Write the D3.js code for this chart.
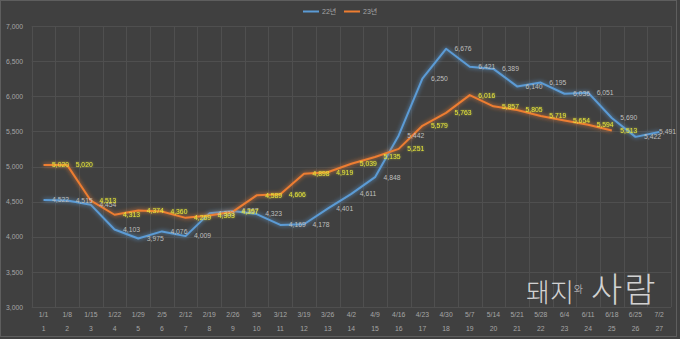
<!DOCTYPE html>
<html><head><meta charset="utf-8">
<script src="https://cdn.jsdelivr.net/npm/d3@7"></script>
<style>
html,body{margin:0;padding:0;background:#404040;}
svg{display:block;}
text{font-family:"Liberation Sans","Noto Sans CJK KR",sans-serif;}
</style></head>
<body>
<svg id="c" width="680" height="339"></svg>
<script>
const dates = ["1/1","1/8","1/15","1/22","1/29","2/5","2/12","2/19","2/26","3/5","3/12","3/19","3/26","4/2","4/9","4/16","4/23","4/30","5/7","5/14","5/21","5/28","6/4","6/11","6/18","6/25","7/2"];
const weeks = d3.range(1, 28);
const series22 = [4522,4515,4454,4103,3975,4076,4009,4333,4367,4323,4169,4178,4401,4611,4848,5442,6250,6676,6421,6389,6140,6195,6036,6051,5690,5422,5491];
const series23 = [5020,5020,4513,4313,4374,4360,4269,4303,4357,4589,4606,4898,4919,5039,5135,5251,5579,5763,6016,5857,5805,5719,5654,5594,5513];
const yTicks = [3000,3500,4000,4500,5000,5500,6000,6500,7000];
const seriesNames = ["22년","23년"];

const svg = d3.select("#c");
svg.append("rect").attr("x",0).attr("y",0).attr("width",680).attr("height",339).attr("fill","#404040");
svg.append("rect").attr("x",0.5).attr("y",0.5).attr("width",676).attr("height",336)
  .attr("fill","none").attr("stroke","#5e5e5e").attr("stroke-width",1);

const defs = svg.append("defs");
function glow(id, sd, op){
  const f = defs.append("filter").attr("id",id).attr("x","-20%").attr("y","-20%").attr("width","140%").attr("height","140%");
  f.append("feGaussianBlur").attr("in","SourceGraphic").attr("stdDeviation",sd).attr("result","b");
  f.append("feComponentTransfer").attr("in","b").attr("result","b2")
    .append("feFuncA").attr("type","linear").attr("slope",op);
  const m = f.append("feMerge");
  m.append("feMergeNode").attr("in","b2");
  m.append("feMergeNode").attr("in","SourceGraphic");
}
glow("glowLine", 2, 0.9);
glow("glowText", 1.2, 0.6);

const x = d3.scaleBand().domain(d3.range(27)).range([31.7, 671]).paddingInner(0).paddingOuter(0);
const y = d3.scaleLinear().domain([3000,7000]).range([307, 26]);
const cx = i => x(i) + x.bandwidth()/2;

// grid
const g = svg.append("g");
g.selectAll("line.h").data(yTicks).join("line")
  .attr("x1",31.7).attr("x2",671).attr("y1",d=>Math.round(y(d))+0.5).attr("y2",d=>Math.round(y(d))+0.5)
  .attr("stroke","#4f4f4f").attr("stroke-width",1);
g.selectAll("line.v").data(d3.range(28)).join("line")
  .attr("x1",d=>Math.round(31.7 + d*x.step())+0.5).attr("x2",d=>Math.round(31.7 + d*x.step())+0.5)
  .attr("y1",26).attr("y2",307)
  .attr("stroke","#4f4f4f").attr("stroke-width",1);

// y axis labels
const yAxis = d3.axisLeft(y).tickValues(yTicks).tickFormat(d3.format(",")).tickSize(0).tickPadding(0);
const ya = svg.append("g").attr("transform","translate(23,0)").call(yAxis);
ya.select(".domain").remove();
ya.selectAll("text").attr("fill","#a6a6a6").attr("font-size","6.8px");

// x axis labels (two rows)
const xAxis1 = d3.axisBottom(x).tickFormat(i=>dates[i]).tickSize(0).tickPadding(0);
const xa1 = svg.append("g").attr("transform","translate(0,312)").call(xAxis1);
xa1.select(".domain").remove();
xa1.selectAll("text").attr("fill","#a6a6a6").attr("font-size","6.8px");
const xAxis2 = d3.axisBottom(x).tickFormat(i=>weeks[i]).tickSize(0).tickPadding(0);
const xa2 = svg.append("g").attr("transform","translate(0,326)").call(xAxis2);
xa2.select(".domain").remove();
xa2.selectAll("text").attr("fill","#a6a6a6").attr("font-size","6.8px");

// watermark
const wm = svg.append("text").attr("x",526).attr("y",302).attr("fill","#e6e6e6").attr("fill-opacity",0.9)
  .attr("font-family","'Noto Sans CJK KR'").attr("font-weight","300");
wm.append("tspan").attr("font-size","26px").text("돼지");
wm.append("tspan").attr("font-size","10px").attr("dy","-9").text("와");
wm.append("tspan").attr("font-size","34px").attr("dy","9").attr("dx","8").attr("letter-spacing","2px").text("사람");

// lines
const line = d3.line().x((d,i)=>cx(i)).y(d=>y(d));
const colors = ["#5b9bd5","#ed7d31"];
[series22, series23].forEach((s,k)=>{
  svg.append("path").datum(s).attr("d",line).attr("fill","none")
    .attr("stroke",colors[k]).attr("stroke-width",2).attr("stroke-linejoin","round")
    .attr("filter","url(#glowLine)");
});

// data labels
const fmt = d3.format(",");
function place(sel){
  sel.each(function(d,i){
    const w = this.getComputedTextLength();
    const x0 = Math.min(cx(i)+8.5, 676 - w);
    d3.select(this).attr("x", x0);
  });
}
svg.append("g").selectAll("text").data(series22).join("text")
  .attr("y",d=>y(d)).attr("dy","0.35em")
  .attr("fill","#bfbfbf").attr("font-size","6.8px").text(d=>fmt(d)).call(place);
svg.append("g").selectAll("text").data(series23).join("text")
  .attr("y",d=>y(d)).attr("dy","0.35em")
  .attr("fill","#e4e43a").attr("font-size","6.8px").attr("filter","url(#glowText)").text(d=>fmt(d)).call(place);

// legend
const lg = svg.append("g");
const lx = [303, 344];
seriesNames.forEach((n,k)=>{
  lg.append("line").attr("x1",lx[k]).attr("x2",lx[k]+16).attr("y1",11.5).attr("y2",11.5)
    .attr("stroke",colors[k]).attr("stroke-width",2);
  lg.append("text").attr("x",lx[k]+19).attr("y",11.5).attr("dy","0.35em")
    .attr("fill","#a6a6a6").attr("font-size","7px").text(n);
});
</script>
</body></html>
